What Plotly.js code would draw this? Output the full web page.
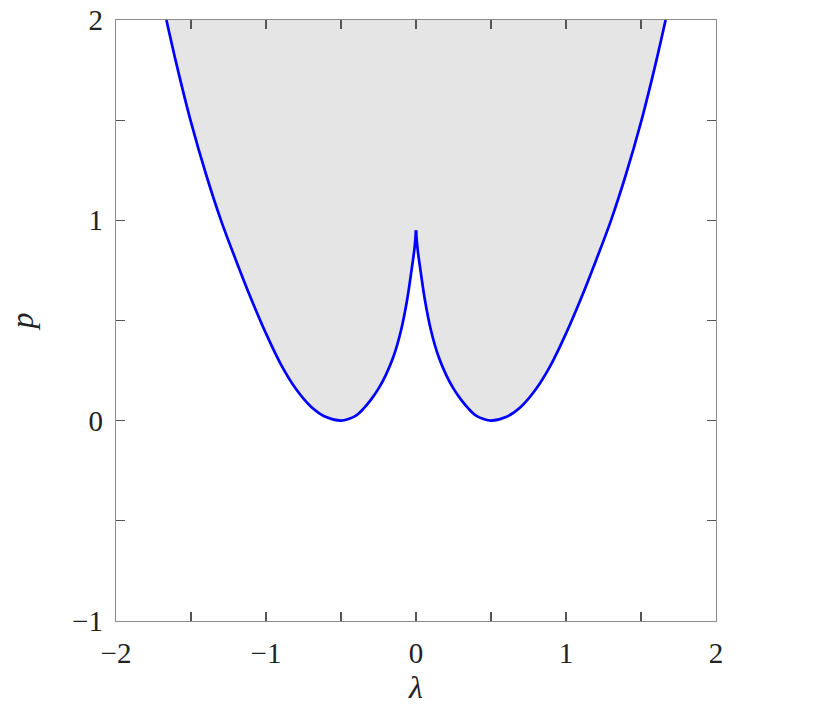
<!DOCTYPE html>
<html>
<head>
<meta charset="utf-8">
<script src="https://cdn.plot.ly/plotly-3.0.1.min.js"></script>
<style>
  html, body { margin: 0; padding: 0; background: #fff; }
  #chart { width: 817px; height: 721px; }
</style>
</head>
<body>
<div id="chart"></div>
<script>
// boundary, left branch (outer -> cusp)
const lamLeft = [-1.664, -1.6, -1.5, -1.4, -1.3, -1.2, -1.1, -1.0, -0.9, -0.8, -0.7, -0.6,
  -0.5, -0.45, -0.4, -0.35, -0.3, -0.25, -0.2, -0.15, -0.1, -0.06, -0.03, -0.01, 0];
const pLeft = [2, 1.79, 1.49, 1.23, 1.0, 0.80, 0.61, 0.435, 0.28, 0.158, 0.07, 0.018,
  0, 0.008, 0.025, 0.06, 0.105, 0.16, 0.23, 0.32, 0.45, 0.60, 0.75, 0.86, 0.95];

// right branch (cusp -> outer)
const lamRight = [0, 0.01, 0.03, 0.06, 0.1, 0.15, 0.2, 0.25, 0.3, 0.35, 0.4, 0.45, 0.5,
  0.6, 0.7, 0.8, 0.9, 1.0, 1.1, 1.2, 1.3, 1.4, 1.5, 1.6, 1.664];
const pRight = [0.95, 0.86, 0.75, 0.60, 0.45, 0.32, 0.23, 0.16, 0.105, 0.06, 0.025, 0.008, 0,
  0.018, 0.07, 0.158, 0.28, 0.435, 0.61, 0.80, 1.0, 1.23, 1.49, 1.79, 2];

const xTicks = [-2, -1.5, -1, -0.5, 0, 0.5, 1, 1.5, 2];
const xTickText = ['\u22122', '', '\u22121', '', '0', '', '1', '', '2'];
const yTicks = [-1, -0.5, 0, 0.5, 1, 1.5, 2];
const yTickText = ['\u22121', '', '0', '', '1', '', '2'];

const BLUE = '#0000ff';
const FONT = '"Liberation Serif", "DejaVu Serif", serif';

const traces = [
  {
    type: 'scatter',
    mode: 'lines',
    x: lamLeft.concat(lamRight.slice(1)),
    y: pLeft.concat(pRight.slice(1)),
    fill: 'toself',
    fillcolor: '#e5e5e5',
    line: { width: 0 },
    hoverinfo: 'skip',
  },
  {
    type: 'scatter',
    mode: 'lines',
    x: lamLeft,
    y: pLeft,
    line: { color: BLUE, width: 2.7, shape: 'spline', smoothing: 1 },
  },
  {
    type: 'scatter',
    mode: 'lines',
    x: lamRight,
    y: pRight,
    line: { color: BLUE, width: 2.7, shape: 'spline', smoothing: 1 },
  },
];

const axisCommon = {
  showgrid: false,
  zeroline: false,
  showline: true,
  linecolor: '#8c8c8c',
  linewidth: 1.3,
  mirror: 'ticks',
  ticks: 'inside',
  ticklen: 9,
  tickwidth: 1.2,
  tickcolor: '#555',
  tickmode: 'array',
  tickfont: { family: FONT, size: 29, color: '#222' },
};

const layout = {
  width: 817,
  height: 721,
  margin: { l: 116, r: 101, t: 20, b: 100 },
  paper_bgcolor: '#fff',
  plot_bgcolor: '#fff',
  showlegend: false,
  xaxis: Object.assign({}, axisCommon, {
    range: [-2, 2],
    tickvals: xTicks,
    ticktext: xTickText,
    ticklabelstandoff: 6,
    title: { text: '<i>λ</i>', font: { family: FONT, size: 32, color: '#222' }, standoff: 6 },
  }),
  yaxis: Object.assign({}, axisCommon, {
    range: [-1, 2],
    tickvals: yTicks,
    ticktext: yTickText,
    ticklabelstandoff: 6,
    title: { text: '<i>p</i>', font: { family: FONT, size: 32, color: '#222' }, standoff: 28 },
  }),
};

Plotly.newPlot('chart', traces, layout, { displayModeBar: false, staticPlot: true });
</script>
</body>
</html>
